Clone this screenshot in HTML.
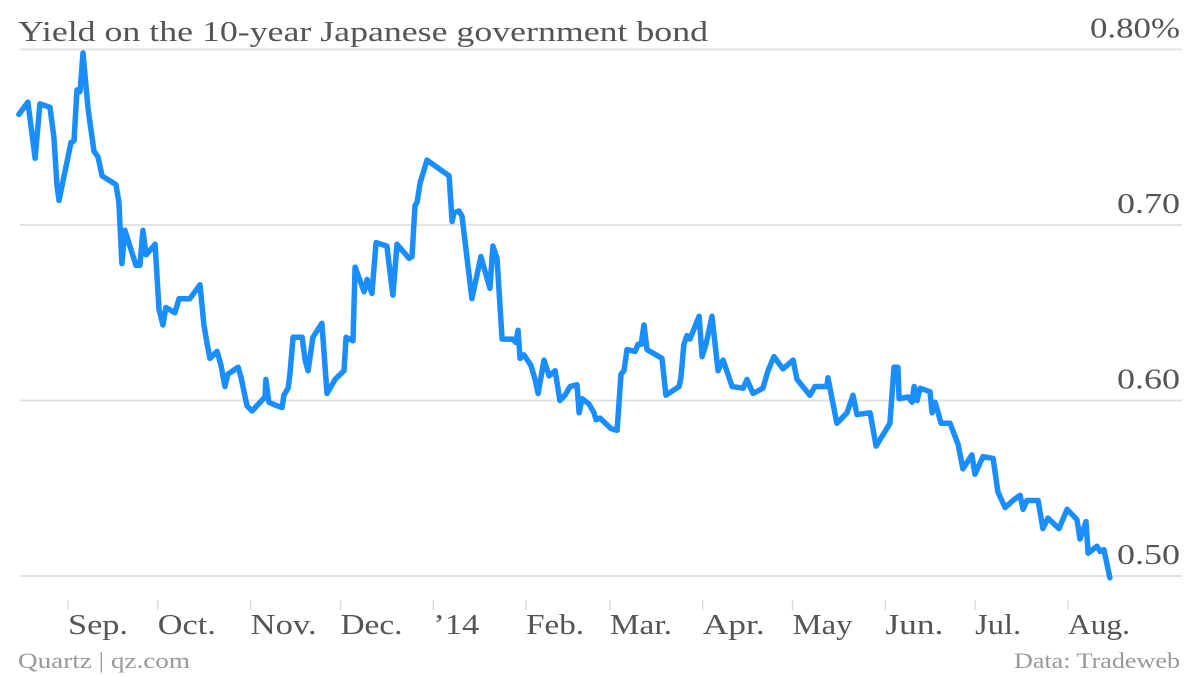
<!DOCTYPE html>
<html><head><meta charset="utf-8"><style>
html,body{margin:0;padding:0;background:#fff;}
svg{display:block;font-family:"Liberation Serif",serif;}
</style></head><body>
<svg id="chart" width="1200" height="676">
<text x="18" y="41" font-size="29" fill="#555" textLength="690" lengthAdjust="spacingAndGlyphs">Yield on the 10-year Japanese government bond</text>
<g id="grid"></g><g id="xaxis"></g>
<path id="line" fill="none" stroke="#1a8dff" stroke-width="5.5" stroke-linejoin="round" stroke-linecap="round"></path>
<text x="18" y="668" font-size="22" fill="#999" textLength="172" lengthAdjust="spacingAndGlyphs">Quartz | qz.com</text>
<text x="1180" y="668" font-size="22" fill="#999" text-anchor="end" textLength="166" lengthAdjust="spacingAndGlyphs">Data: Tradeweb</text>
</svg>
<script>
// days since 2013-09-01
const days = [-16.4,-13.4,-11.0,-9.4,-6.0,-4.7,-3.7,-3.0,1.0,2.0,3.0,4.0,5.0,6.7,8.7,10.0,11.4,16.0,17.0,18.0,19.0,22.7,24.0,25.0,26.1,29.1,30.4,31.7,32.7,35.7,37.1,40.7,44.1,45.4,46.4,47.4,49.8,51.1,52.4,53.4,56.8,57.8,59.8,61.5,63.1,65.8,66.1,67.1,69.8,71.5,72.1,73.5,74.1,75.2,78.2,79.2,80.2,81.8,84.8,86.5,89.2,92.2,92.9,95.2,95.9,98.9,99.9,101.5,102.9,106.5,107.9,108.5,109.9,113.9,114.9,115.9,116.6,117.6,119.9,127.3,128.3,128.9,130.6,131.6,134.9,137.9,140.9,141.9,143.3,145.0,148.6,149.6,150.3,151.0,152.3,154.6,156.0,157.0,159.0,160.7,162.7,164.3,166.0,167.7,170.0,170.7,171.7,174.0,175.7,176.4,177.7,181.4,183.4,184.7,185.7,186.7,189.4,190.4,191.4,192.4,193.4,198.4,199.7,204.1,204.7,205.7,206.7,207.7,210.8,211.8,213.1,215.1,217.1,218.8,221.8,225.5,226.8,228.8,232.1,233.8,235.8,238.8,242.2,243.5,247.8,249.5,253.5,253.8,256.8,260.2,262.2,263.5,267.9,269.9,274.5,275.9,277.2,277.6,280.6,281.9,282.6,283.6,284.6,287.9,288.6,289.6,291.6,294.6,297.3,298.9,301.9,302.9,305.6,309.0,310.6,313.0,315.6,318.0,319.0,320.3,324.0,325.6,327.3,331.0,333.7,337.0,338.0,340.0,340.7,343.7,344.7,346.0,348.0];
const yields = [0.763,0.770,0.738,0.769,0.767,0.750,0.723,0.714,0.747,0.748,0.777,0.776,0.798,0.766,0.742,0.739,0.728,0.723,0.713,0.678,0.697,0.677,0.677,0.697,0.683,0.689,0.652,0.643,0.653,0.650,0.658,0.658,0.666,0.643,0.633,0.624,0.628,0.620,0.608,0.615,0.619,0.613,0.597,0.594,0.597,0.602,0.612,0.599,0.597,0.596,0.603,0.607,0.615,0.636,0.636,0.623,0.617,0.636,0.644,0.604,0.612,0.617,0.636,0.634,0.676,0.662,0.669,0.661,0.690,0.688,0.668,0.660,0.689,0.681,0.682,0.711,0.713,0.724,0.737,0.728,0.702,0.707,0.708,0.705,0.658,0.682,0.664,0.688,0.681,0.635,0.635,0.633,0.640,0.624,0.626,0.620,0.612,0.604,0.623,0.614,0.617,0.600,0.603,0.608,0.609,0.593,0.601,0.598,0.593,0.589,0.590,0.584,0.583,0.615,0.617,0.629,0.628,0.632,0.632,0.643,0.629,0.624,0.603,0.608,0.613,0.632,0.637,0.635,0.648,0.625,0.632,0.648,0.617,0.623,0.608,0.607,0.612,0.604,0.607,0.617,0.625,0.618,0.623,0.612,0.603,0.608,0.608,0.613,0.587,0.593,0.603,0.592,0.593,0.574,0.587,0.619,0.619,0.601,0.602,0.599,0.608,0.600,0.607,0.605,0.593,0.599,0.587,0.587,0.575,0.561,0.569,0.558,0.568,0.567,0.548,0.539,0.543,0.546,0.538,0.543,0.543,0.527,0.533,0.527,0.538,0.532,0.521,0.531,0.513,0.517,0.514,0.515,0.499];
const yTicks = [0.5,0.6,0.7,0.8];
const yTickLabels = ["0.50","0.60","0.70","0.80%"];
const monthDays = [0,30,61,91,122,153,181,212,242,273,303,334];
const monthLabels = ["Sep.","Oct.","Nov.","Dec.","’14","Feb.","Mar.","Apr.","May","Jun.","Jul.","Aug."];
const monthLabelWidths = [60,58,66,62,46,58,62,62,60,58,46,62];

const NS="http://www.w3.org/2000/svg";
const xs = d => 68 + d*(1000/334);
const ys = v => 576 - (v-0.5)*1755;
const grid=document.getElementById('grid'), xa=document.getElementById('xaxis');
yTicks.forEach((t,i)=>{
  const l=document.createElementNS(NS,'line');
  l.setAttribute('x1',20);l.setAttribute('x2',1182);
  l.setAttribute('y1',ys(t));l.setAttribute('y2',ys(t));
  l.setAttribute('stroke','#e3e3e3');l.setAttribute('stroke-width','2');
  
  
  grid.appendChild(l);
  const tx=document.createElementNS(NS,'text');
  tx.setAttribute('x',1180);tx.setAttribute('y',ys(t)-12);
  tx.setAttribute('text-anchor','end');tx.setAttribute('font-size','28');tx.setAttribute('fill','#555');
  tx.setAttribute('textLength', yTickLabels[i].length>4 ? 90 : 63);
  tx.setAttribute('lengthAdjust','spacingAndGlyphs');
  tx.textContent=yTickLabels[i];
  
  
  grid.appendChild(tx);
});
monthDays.forEach((d,i)=>{
  const x=xs(d);
  const l=document.createElementNS(NS,'line');
  l.setAttribute('x1',x);l.setAttribute('x2',x);l.setAttribute('y1',600);l.setAttribute('y2',610);
  l.setAttribute('stroke','#ddd');l.setAttribute('stroke-width','1.5');
  
  
  xa.appendChild(l);
  const tx=document.createElementNS(NS,'text');
  tx.setAttribute('x',x);tx.setAttribute('y',634);tx.setAttribute('font-size','29');tx.setAttribute('fill','#555');
  tx.setAttribute('textLength',monthLabelWidths[i]);
  tx.setAttribute('lengthAdjust','spacingAndGlyphs');
  tx.textContent=monthLabels[i];
  
  
  xa.appendChild(tx);
});
document.getElementById('line').setAttribute('d', days.map((d,i)=>(i?'L':'M')+xs(d).toFixed(1)+','+ys(yields[i]).toFixed(1)).join(''));
</script>
</body></html>
